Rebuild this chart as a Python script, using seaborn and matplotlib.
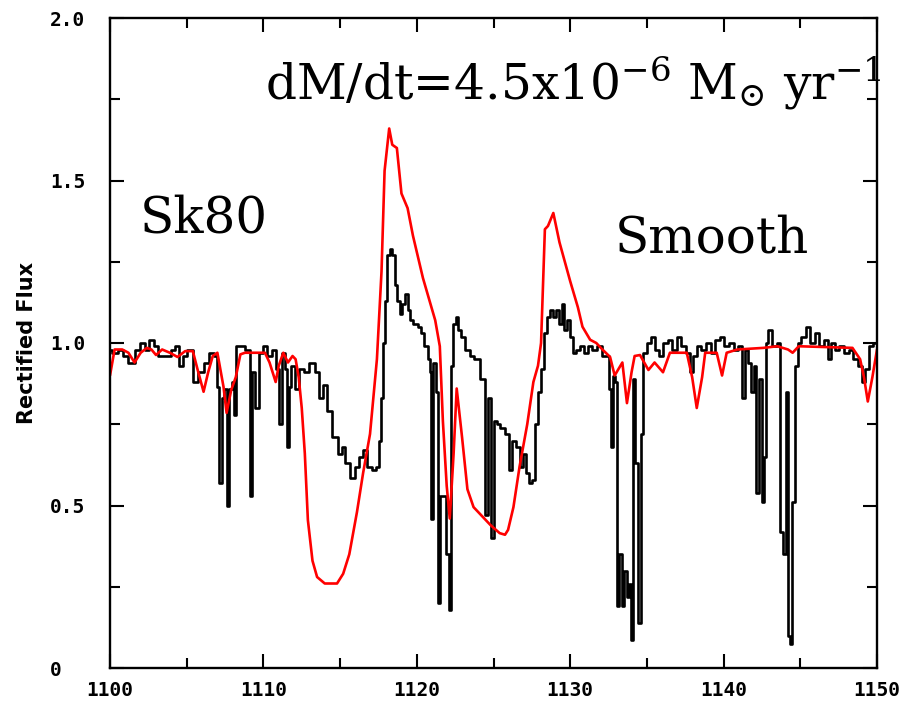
import numpy as np
import pandas as pd
import matplotlib
matplotlib.use("Agg")
import matplotlib.pyplot as plt
import seaborn as sns
from matplotlib.ticker import MultipleLocator

# Observed spectrum (Sk80), wavelength in Angstrom and rectified flux
obs_wave = [1100.0, 1100.3, 1100.7, 1101.0, 1101.4, 1101.8, 1102.1, 1102.4, 1102.7, 1103.0,
            1103.3, 1103.8, 1104.1, 1104.4, 1104.6, 1104.9, 1105.2, 1105.6, 1105.9, 1106.3,
            1106.6, 1106.9, 1107.0, 1107.24, 1107.35, 1107.55, 1107.7, 1107.85, 1108.0, 1108.15,
            1108.3, 1108.6, 1109.0, 1109.2, 1109.35, 1109.6, 1109.8, 1110.1, 1110.4, 1110.7,
            1110.9, 1111.1, 1111.3, 1111.5, 1111.6, 1111.75, 1111.9, 1112.2, 1112.5, 1112.8,
            1113.2, 1113.5, 1113.8, 1114.0, 1114.3, 1114.7, 1115.0, 1115.2, 1115.5, 1115.8,
            1116.1, 1116.4, 1116.6, 1116.9, 1117.2, 1117.5, 1117.6, 1117.75, 1117.9, 1118.0,
            1118.15, 1118.3, 1118.5, 1118.65, 1118.8, 1118.95, 1119.15, 1119.3, 1119.5, 1119.6,
            1119.9, 1120.2, 1120.4, 1120.6, 1120.8, 1120.9, 1121.0, 1121.15, 1121.3, 1121.45,
            1121.6, 1121.8, 1122.0, 1122.15, 1122.3, 1122.45, 1122.6, 1122.8, 1123.0, 1123.3,
            1123.6, 1123.9, 1124.3, 1124.55, 1124.7, 1124.95, 1125.1, 1125.3, 1125.6, 1125.9,
            1126.1, 1126.3, 1126.6, 1126.8, 1127.0, 1127.2, 1127.4, 1127.6, 1127.8, 1128.0,
            1128.2, 1128.4, 1128.6, 1128.8, 1129.0, 1129.2, 1129.4, 1129.5, 1129.7, 1129.9,
            1130.1, 1130.3, 1130.5, 1130.8, 1131.0, 1131.3, 1131.6, 1131.9, 1132.2, 1132.5,
            1132.6, 1132.75, 1132.85, 1133.0, 1133.1, 1133.3, 1133.45, 1133.6, 1133.75, 1133.9,
            1134.05, 1134.15, 1134.35, 1134.55, 1134.7, 1134.85, 1135.1, 1135.4, 1135.7, 1135.9,
            1136.2, 1136.5, 1136.8, 1137.1, 1137.4, 1137.7, 1137.95, 1138.1, 1138.4, 1138.7,
            1139.0, 1139.3, 1139.6, 1139.9, 1140.2, 1140.5, 1140.8, 1141.1, 1141.3, 1141.45,
            1141.7, 1141.9, 1142.05, 1142.2, 1142.4, 1142.55, 1142.7, 1142.8, 1143.0, 1143.3,
            1143.6, 1143.8, 1144.0, 1144.1, 1144.25, 1144.4, 1144.55, 1144.75, 1144.9, 1145.2,
            1145.5, 1145.8, 1146.1, 1146.4, 1146.7, 1146.9, 1147.1, 1147.4, 1147.7, 1148.0,
            1148.3, 1148.6, 1148.9, 1149.1, 1149.35, 1149.6, 1149.9]
obs_flux = [0.98, 0.97, 0.98, 0.96, 0.94, 0.98, 1.00, 0.98, 1.01, 0.99,
            0.96, 0.96, 0.98, 0.99, 0.93, 0.96, 0.98, 0.88, 0.91, 0.94,
            0.97, 0.96, 0.865, 0.57, 0.83, 0.86, 0.50, 0.86, 0.88, 0.78,
            0.99, 0.99, 0.98, 0.53, 0.91, 0.80, 0.97, 0.99, 0.96, 0.98,
            0.92, 0.75, 0.97, 0.92, 0.68, 0.865, 0.93, 0.86, 0.92, 0.91,
            0.94, 0.91, 0.83, 0.87, 0.79, 0.71, 0.66, 0.68, 0.63, 0.585,
            0.62, 0.65, 0.67, 0.62, 0.61, 0.62, 0.70, 0.83, 1.00, 1.13,
            1.27, 1.29, 1.27, 1.18, 1.13, 1.09, 1.12, 1.15, 1.10, 1.07,
            1.06, 1.05, 1.03, 0.99, 0.95, 0.91, 0.46, 0.94, 0.85, 0.20,
            0.53, 0.53, 0.35, 0.18, 0.93, 1.06, 1.08, 1.04, 1.02, 0.98,
            0.96, 0.95, 0.89, 0.47, 0.83, 0.40, 0.76, 0.75, 0.74, 0.72,
            0.61, 0.70, 0.68, 0.62, 0.66, 0.60, 0.57, 0.58, 0.75, 0.85,
            0.92, 1.03, 1.08, 1.10, 1.08, 1.10, 1.06, 1.12, 1.04, 1.07,
            1.02, 0.97, 0.98, 0.99, 0.97, 0.99, 0.98, 0.99, 0.96, 0.96,
            0.86, 0.68, 0.90, 0.88, 0.19, 0.35, 0.19, 0.30, 0.22, 0.26,
            0.086, 0.89, 0.63, 0.14, 0.72, 0.97, 1.00, 1.02, 0.98, 0.96,
            1.00, 1.01, 0.98, 1.02, 0.99, 0.97, 0.91, 0.96, 0.99, 0.98,
            1.00, 0.97, 1.01, 1.02, 0.99, 1.00, 0.98, 0.99, 0.83, 0.98,
            0.94, 0.85, 0.93, 0.54, 0.89, 0.51, 0.65, 1.00, 1.04, 0.99,
            1.00, 0.42, 0.35, 0.85, 0.10, 0.075, 0.51, 0.93, 1.00, 1.02,
            1.05, 1.00, 1.03, 0.99, 1.01, 0.95, 1.00, 0.98, 0.99, 0.97,
            0.98, 0.95, 0.93, 0.88, 0.92, 0.99, 1.00]

# Smooth-wind model spectrum
mod_wave = [1100.0, 1100.3, 1100.8, 1101.2, 1101.6, 1102.0, 1102.4, 1102.7, 1103.0, 1103.4,
            1103.9, 1104.4, 1104.9, 1105.4, 1105.7, 1106.1, 1106.4, 1106.7, 1107.0, 1107.4,
            1107.6, 1107.9, 1108.2, 1108.5, 1108.8, 1109.5, 1110.1, 1110.4, 1110.8, 1111.0,
            1111.3, 1111.6, 1111.9, 1112.1, 1112.3, 1112.5, 1112.7, 1112.9, 1113.2, 1113.5,
            1114.0, 1114.8, 1115.2, 1115.6, 1116.1, 1116.5, 1116.95, 1117.4, 1117.7, 1117.9,
            1118.2, 1118.4, 1118.7, 1119.0, 1119.4, 1119.75, 1120.4, 1121.2, 1121.5, 1121.7,
            1121.95, 1122.15, 1122.4, 1122.6, 1122.95, 1123.3, 1123.7, 1124.1, 1124.8, 1125.4,
            1125.75, 1125.95, 1126.3, 1126.7, 1127.2, 1127.6, 1127.9, 1128.1, 1128.35, 1128.55,
            1128.9, 1129.3, 1130.0, 1130.5, 1130.8, 1131.3, 1131.7, 1132.1, 1132.6, 1132.9,
            1133.4, 1133.7, 1134.0, 1134.2, 1134.55, 1135.1, 1135.5, 1136.05, 1136.5, 1137.6,
            1137.95, 1138.25, 1138.6, 1138.8, 1139.55, 1139.9, 1140.2, 1140.9, 1142.6, 1143.5,
            1144.2, 1144.5, 1144.9, 1148.4, 1148.9, 1149.15, 1149.4, 1149.7, 1150.0]
mod_flux = [0.90, 0.98, 0.98, 0.97, 0.94, 0.97, 0.985, 0.98, 0.963, 0.98,
            0.97, 0.957, 0.975, 0.975, 0.92, 0.85, 0.91, 0.96, 0.97, 0.865,
            0.785, 0.855, 0.895, 0.965, 0.97, 0.97, 0.97, 0.94, 0.88, 0.93,
            0.97, 0.94, 0.96, 0.95, 0.895, 0.80, 0.66, 0.455, 0.33, 0.28,
            0.26, 0.26, 0.29, 0.35, 0.48, 0.60, 0.72, 0.95, 1.22, 1.53,
            1.66, 1.61, 1.60, 1.46, 1.415, 1.33, 1.20, 1.07, 0.99, 0.76,
            0.56, 0.46, 0.66, 0.86, 0.71, 0.55, 0.495, 0.475, 0.44, 0.415,
            0.41, 0.425, 0.495, 0.62, 0.75, 0.88, 0.93, 1.00, 1.35, 1.36,
            1.40, 1.31, 1.19, 1.11, 1.05, 1.01, 1.00, 0.98, 0.957, 0.90,
            0.94, 0.815, 0.91, 0.96, 0.963, 0.917, 0.94, 0.91, 0.97, 0.97,
            0.895, 0.80, 0.895, 0.97, 0.97, 0.90, 0.97, 0.98, 0.985, 0.99,
            0.98, 0.97, 0.99, 0.985, 0.95, 0.895, 0.82, 0.895, 0.98]

x_ticks = [1100, 1110, 1120, 1130, 1140, 1150]
y_ticks = [0, 0.5, 1.0, 1.5, 2.0]
y_tick_labels = ["0", "0.5", "1.0", "1.5", "2.0"]

obs = pd.DataFrame({"wave": obs_wave, "flux": obs_flux})
mod = pd.DataFrame({"wave": mod_wave, "flux": mod_flux})

sns.set_style("ticks")
plt.rcParams["mathtext.fontset"] = "dejavuserif"
plt.rcParams["text.color"] = "black"

fig = plt.figure(figsize=(9.03, 7.06), dpi=100)
ax = fig.add_axes([110 / 903, 38 / 706, 767 / 903, 650 / 706])

sns.lineplot(data=obs, x="wave", y="flux", ax=ax, color="black", lw=1.9,
             drawstyle="steps-mid", estimator=None, sort=False)
sns.lineplot(data=mod, x="wave", y="flux", ax=ax, color="#ff0000", lw=1.9,
             estimator=None, sort=False)

ax.set_xlim(1100, 1150)
ax.set_ylim(0, 2.0)
ax.xaxis.set_minor_locator(MultipleLocator(5))
ax.yaxis.set_minor_locator(MultipleLocator(0.25))
ax.set_xticks(x_ticks)
ax.set_yticks(y_ticks)
ax.set_yticklabels(y_tick_labels)
ax.tick_params(which="both", direction="in", top=True, right=True, width=1.5,
               colors="black", labelcolor="black")
ax.tick_params(which="major", length=10)
ax.tick_params(which="minor", length=7)
ax.tick_params(axis="x", which="major", pad=9)
ax.tick_params(axis="y", which="major", pad=43)
for lab in ax.get_xticklabels() + ax.get_yticklabels():
    lab.set_fontfamily("DejaVu Sans Mono")
    lab.set_fontweight("bold")
    lab.set_fontsize(14)
for lab in ax.get_yticklabels():
    lab.set_horizontalalignment("left")
for s in ax.spines.values():
    s.set_linewidth(1.7)
    s.set_color("black")

ax.set_xlabel("")
ax.set_ylabel("Rectified Flux", fontsize=15, fontweight="bold", family="DejaVu Sans",
              color="black")
ax.yaxis.set_label_coords((37 - 110) / 767, 0.5)

ax.text(1101.95, 1.34, "Sk80", fontsize=36, family="DejaVu Serif", color="black",
        ha="left", va="baseline")
ax.text(1132.9, 1.277, "Smooth", fontsize=36, family="DejaVu Serif", color="black",
        ha="left", va="baseline")
ax.text(1110.1, 1.75, r"dM/dt=4.5x10$^{-6}$ M$_{\odot}$ yr$^{-1}$", fontsize=35,
        family="DejaVu Serif", color="black", ha="left", va="baseline")

fig.savefig("out.png", dpi=100)
